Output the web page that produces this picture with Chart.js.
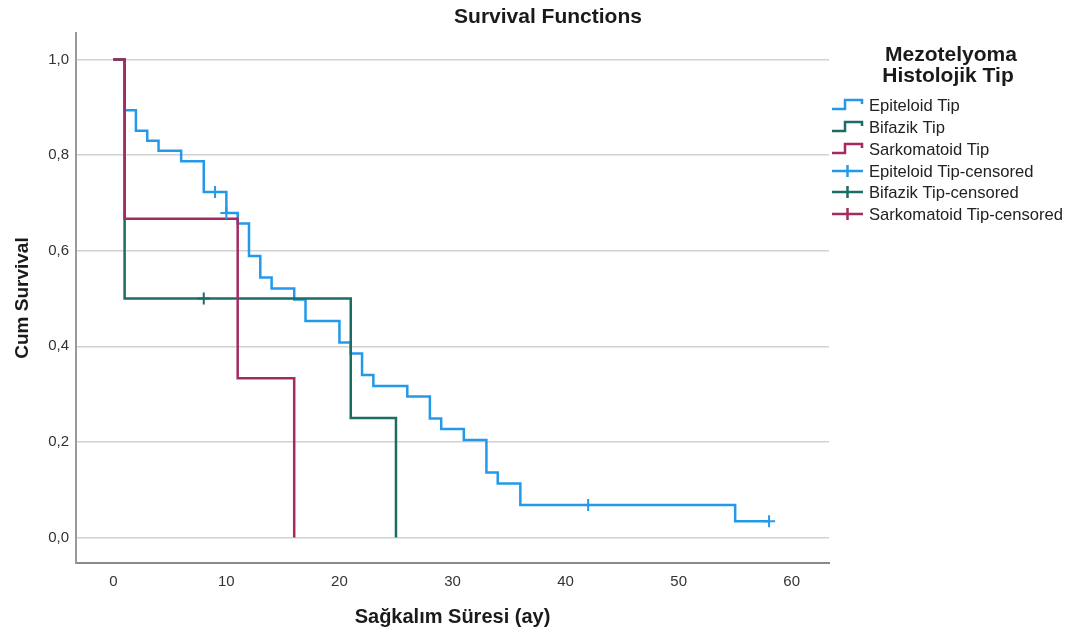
<!DOCTYPE html>
<html>
<head>
<meta charset="utf-8">
<title>Survival Functions</title>
<script src="https://cdn.jsdelivr.net/npm/chart.js@4"></script>
<style>
    html, body { margin: 0; padding: 0; background: #fff; }
    canvas { display: block; }
</style>
</head>
<body>
<canvas id="chartCanvas" width="1082" height="635"></canvas>
<script>
// Kaplan-Meier values (time in months, cumulative survival)
const epiTimes = [0, 1, 2, 3, 4, 6, 8, 10, 11, 12, 13, 14, 16, 17, 20, 21, 22, 23, 26, 28, 29, 31, 33, 34, 36, 55, 58];
const epiSurv = [1, 0.894, 0.851, 0.830, 0.809, 0.787, 0.723, 0.679, 0.657, 0.589, 0.544, 0.521, 0.498, 0.453, 0.408, 0.385, 0.340, 0.317, 0.295, 0.249, 0.227, 0.204, 0.136, 0.113, 0.068, 0.034, 0.034];
const epiCensTimes = [9, 10, 42, 58];
const epiCensSurv = [0.723, 0.679, 0.068, 0.034];

const bifTimes = [0, 1, 21, 25];
const bifSurv = [1, 0.5, 0.25, 0];
const bifCensTimes = [8];
const bifCensSurv = [0.5];

const sarTimes = [0, 1, 11, 16];
const sarSurv = [1, 0.667, 0.333, 0];
const sarCensTimes = [];
const sarCensSurv = [];

const xTicks = [0, 10, 20, 30, 40, 50, 60];
const yTicks = [0, 0.2, 0.4, 0.6, 0.8, 1.0];

const groupNames = ['Epiteloid Tip', 'Bifazik Tip', 'Sarkomatoid Tip'];
const legendTitle = ['Mezotelyoma', 'Histolojik Tip'];
const chartTitle = 'Survival Functions';

const BLUE = '#2499ea';
const TEAL = '#1c6d66';
const RED = '#a52a60';
const FONT = '"Liberation Sans", Arial, sans-serif';

function toPoints(xs, ys) {
    return xs.map((x, i) => ({ x: x, y: ys[i] }));
}

function stepSet(label, xs, ys, color) {
    return {
        label: label,
        data: toPoints(xs, ys),
        showLine: true,
        stepped: 'before',
        borderColor: color,
        borderWidth: 2.5,
        pointRadius: 0,
        fill: false
    };
}

function censSet(label, xs, ys, color) {
    return {
        label: label,
        data: toPoints(xs, ys),
        showLine: false,
        pointStyle: 'cross',
        pointRadius: 6,
        pointBorderWidth: 2,
        borderColor: color,
        backgroundColor: color
    };
}

// title + legend drawn by hand on the right side
const sideLegend = {
    id: 'sideLegend',
    afterDraw(chart) {
        const ctx = chart.ctx;
        ctx.save();
        ctx.fillStyle = '#1a1a1a';
        ctx.textAlign = 'center';
        ctx.textBaseline = 'middle';
        ctx.font = 'bold 21px ' + FONT;
        ctx.fillText(chartTitle, 548, 17);
        ctx.fillText(legendTitle[0], 951, 55);
        ctx.fillText(legendTitle[1], 948, 76);

        const colors = [BLUE, TEAL, RED];
        const rows = [105, 127, 149, 171, 192, 214];
        ctx.lineWidth = 2.5;
        ctx.lineCap = 'butt';
        ctx.lineJoin = 'miter';
        ctx.textAlign = 'left';
        ctx.font = '16.6px ' + FONT;
        for (let i = 0; i < 6; i++) {
            const y = rows[i];
            const c = colors[i % 3];
            ctx.strokeStyle = c;
            ctx.beginPath();
            if (i < 3) {
                ctx.moveTo(832, y + 4);
                ctx.lineTo(845, y + 4);
                ctx.lineTo(845, y - 5);
                ctx.lineTo(862, y - 5);
                ctx.lineTo(862, y - 1);
            } else {
                ctx.moveTo(832, y);
                ctx.lineTo(863, y);
                ctx.moveTo(847.5, y - 6);
                ctx.lineTo(847.5, y + 6);
            }
            ctx.stroke();
            ctx.fillStyle = '#222';
            const text = i < 3 ? groupNames[i] : groupNames[i - 3] + '-censored';
            ctx.fillText(text, 869, y + 1);
        }
        ctx.restore();
    }
};

const ctx = document.getElementById('chartCanvas').getContext('2d');
new Chart(ctx, {
    type: 'scatter',
    data: {
        datasets: [
            censSet(groupNames[0] + '-censored', epiCensTimes, epiCensSurv, BLUE),
            censSet(groupNames[1] + '-censored', bifCensTimes, bifCensSurv, TEAL),
            censSet(groupNames[2] + '-censored', sarCensTimes, sarCensSurv, RED),
            stepSet(groupNames[2], sarTimes, sarSurv, RED),
            stepSet(groupNames[1], bifTimes, bifSurv, TEAL),
            stepSet(groupNames[0], epiTimes, epiSurv, BLUE)
        ]
    },
    options: {
        responsive: false,
        animation: false,
        layout: { padding: { left: 10, right: 253, top: 33, bottom: 0 } },
        plugins: {
            legend: { display: false },
            title: { display: false },
            tooltip: { enabled: false }
        },
        scales: {
            x: {
                type: 'linear',
                min: -3.3,
                max: 63.3,
                afterBuildTicks: (axis) => { axis.ticks = xTicks.map(v => ({ value: v })); },
                afterFit: (axis) => { axis.height = 72; },
                grid: { display: false, drawTicks: false },
                border: { display: true, color: '#8a8a8a', width: 2 },
                ticks: {
                    padding: 10,
                    color: '#333',
                    font: { family: FONT, size: 15 }
                },
                title: {
                    display: true,
                    text: 'Sağkalım Süresi (ay)',
                    color: '#1a1a1a',
                    font: { family: FONT, size: 20, weight: 'bold' },
                    padding: { top: 0, bottom: 6 }
                }
            },
            y: {
                type: 'linear',
                min: -0.0533,
                max: 1.0554,
                afterBuildTicks: (axis) => { axis.ticks = yTicks.map(v => ({ value: v })); },
                afterFit: (axis) => { axis.width = 66; },
                grid: { color: '#d2d2d2', lineWidth: 1.5, drawTicks: false },
                border: { display: true, color: '#9a9a9a', width: 2 },
                ticks: {
                    padding: 7,
                    color: '#333',
                    font: { family: FONT, size: 15 },
                    callback: (v) => v.toFixed(1).replace('.', ',')
                },
                title: {
                    display: true,
                    text: 'Cum Survival',
                    color: '#1a1a1a',
                    font: { family: FONT, size: 19, weight: 'bold' },
                    padding: { top: 1, bottom: 0 }
                }
            }
        }
    },
    plugins: [sideLegend]
});
</script>
</body>
</html>
